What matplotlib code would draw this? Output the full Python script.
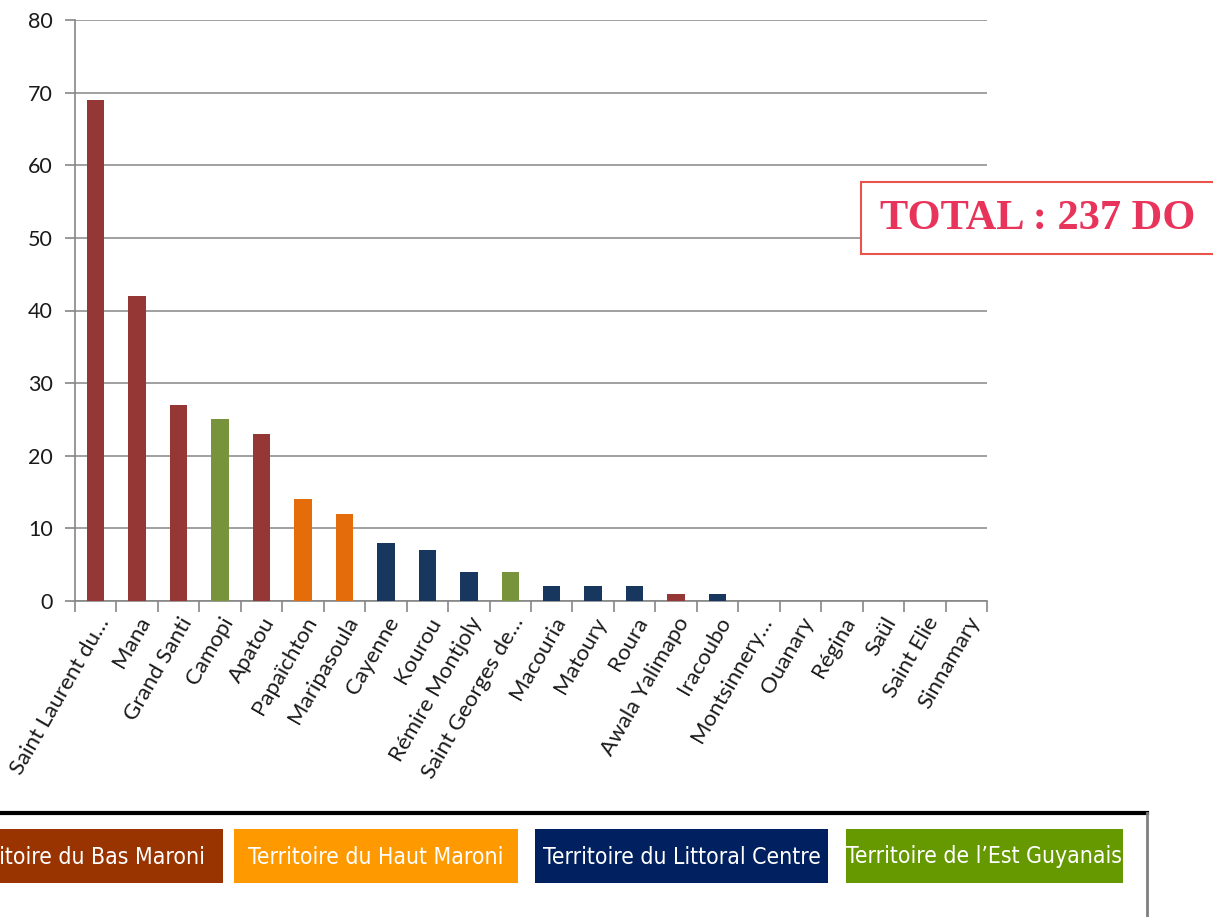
import matplotlib
matplotlib.use("Agg")
import matplotlib.pyplot as plt
from matplotlib.patches import Rectangle
from matplotlib.lines import Line2D

# Data
communes = ["Saint Laurent du…", "Mana", "Grand Santi", "Camopi", "Apatou",
            "Papaïchton", "Maripasoula", "Cayenne", "Kourou", "Rémire Montjoly",
            "Saint Georges de…", "Macouria", "Matoury", "Roura", "Awala Yalimapo",
            "Iracoubo", "Montsinnery…", "Ouanary", "Régina", "Saül",
            "Saint Elie", "Sinnamary"]
cases = [69, 42, 27, 25, 23, 14, 12, 8, 7, 4, 4, 2, 2, 2, 1, 1, 0, 0, 0, 0, 0, 0]
territory = ["bas", "bas", "bas", "est", "bas", "haut", "haut", "litt", "litt", "litt",
             "est", "litt", "litt", "litt", "bas", "litt", "litt", "litt", "est",
             "haut", "litt", "litt"]

bar_colors = {"bas": "#953735", "haut": "#e46c0a", "litt": "#17375e", "est": "#77933c"}
legend_labels = ["Territoire du Bas Maroni", "Territoire du Haut Maroni",
                 "Territoire du Littoral Centre", "Territoire de l’Est Guyanais"]
legend_colors = ["#993300", "#ff9900", "#002060", "#669900"]

W, H = 1213, 917
fig = plt.figure(figsize=(W / 100, H / 100), dpi=100)
ax = fig.add_axes([75 / W, 1 - 601 / H, (987 - 75) / W, (601 - 20) / H])

x = range(len(communes))
ax.bar(x, cases, width=0.42, color=[bar_colors[t] for t in territory], zorder=3)

ax.set_xlim(-0.5, len(communes) - 0.5)
ax.set_ylim(0, 80)
ax.set_yticks(range(0, 81, 10))
ax.tick_params(axis="y", labelsize=15.5, length=7, color="#868686", width=1.2, pad=9)
ax.yaxis.grid(True, color="#868686", linewidth=1.1, zorder=0)

ax.set_xticks([i - 0.5 for i in range(len(communes) + 1)], minor=False)
ax.set_xticklabels([])
ax.set_xticks(list(x), minor=True)
ax.set_xticklabels(communes, minor=True, rotation=60, ha="right",
                   rotation_mode="anchor", fontsize=16)
ax.tick_params(axis="x", which="major", length=8, color="#868686", width=1.2)
ax.tick_params(axis="x", which="minor", length=0, pad=9)

for s in ["top", "right"]:
    ax.spines[s].set_visible(False)
for s in ["left", "bottom"]:
    ax.spines[s].set_color("#868686")
    ax.spines[s].set_linewidth(1.2)

for lab in ax.get_xticklabels(minor=True) + ax.get_yticklabels():
    lab.set_family(["Lato", "DejaVu Sans"])
    lab.set_color("#1a1a1a")

# total box
fig.patches.append(Rectangle((861 / W, 1 - 254 / H), 400 / W, 72 / H,
                             transform=fig.transFigure, facecolor="white",
                             edgecolor="#e8534a", linewidth=1.5, zorder=5))
fig.text(880 / W, 1 - 219 / H, "TOTAL : 237 DO", family=["Liberation Serif", "DejaVu Serif"],
         fontweight="bold", fontsize=30.5, color="#e8335a", va="center", ha="left", zorder=6)

# legend frame
fig.add_artist(Line2D([0, 1147 / W], [1 - 813 / H] * 2, transform=fig.transFigure,
                      color="black", linewidth=3))
fig.add_artist(Line2D([1147 / W] * 2, [1 - 813 / H, 0], transform=fig.transFigure,
                      color="#7f7f7f", linewidth=2))

boxes = [(-120, 223), (234, 518), (535, 828), (846, 1123)]
for i, ((x0, x1), lab, col) in enumerate(zip(boxes, legend_labels, legend_colors)):
    fig.patches.append(Rectangle((x0 / W, 1 - 883 / H), (x1 - x0) / W, 54 / H,
                                 transform=fig.transFigure, facecolor=col, edgecolor="none"))
    if i == 0:
        tx, ha = 205, "right"
    else:
        tx, ha = (x0 + x1) / 2, "center"
    fig.text(tx / W, 1 - 857 / H, lab, color="white", ha=ha, va="center",
             fontsize=16.5, family=["DejaVu Sans"], fontstretch="condensed")

fig.savefig("out.png", dpi=100)
